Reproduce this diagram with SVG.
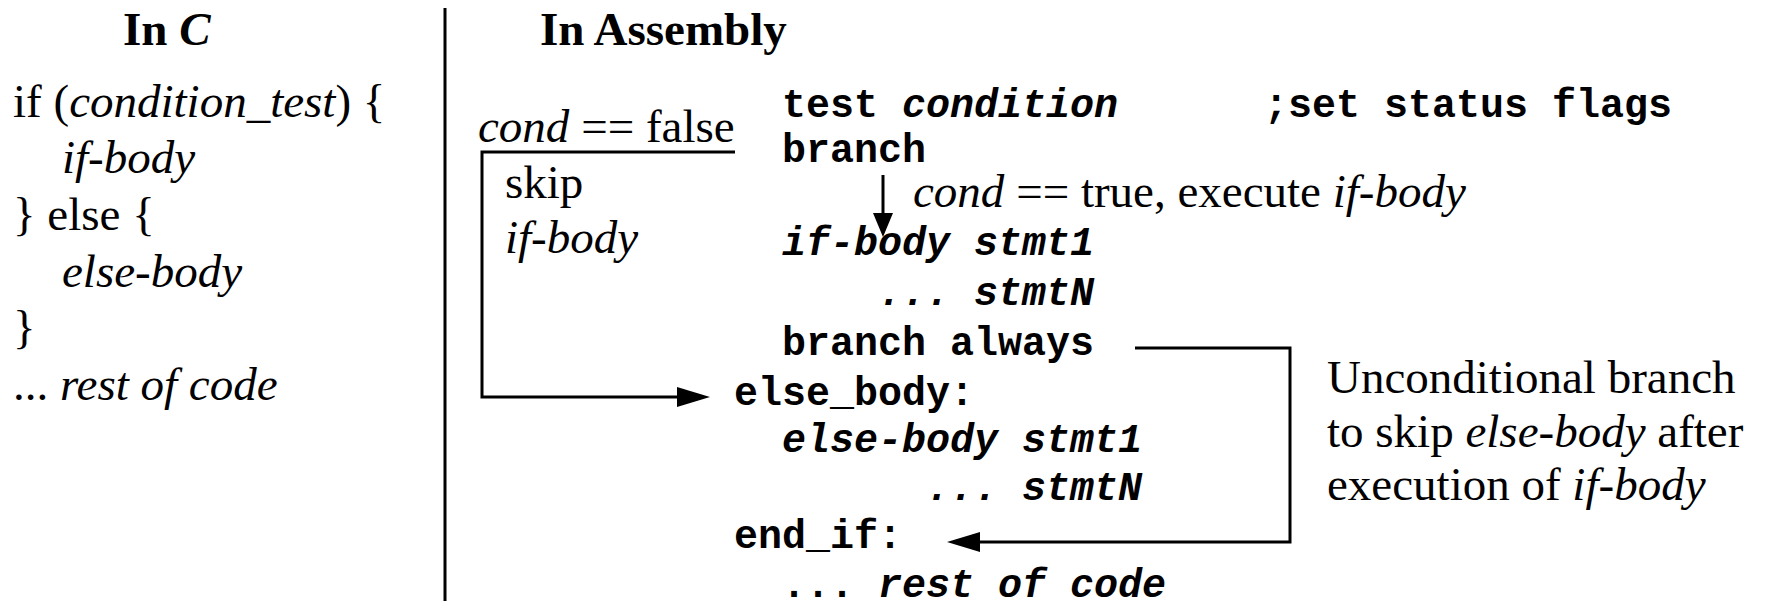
<svg xmlns="http://www.w3.org/2000/svg" width="1767" height="601" viewBox="0 0 1767 601">
  <style>
    .serif { font-family: "Liberation Serif", "Times New Roman", serif; font-size: 47px; fill: #000; }
    .head { font-family: "Liberation Serif", "Times New Roman", serif; font-size: 47px; font-weight: bold; fill: #000; }
    .mono { font-family: "Liberation Mono", "Courier New", monospace; font-size: 40px; font-weight: bold; fill: #000; white-space: pre; }
    .it { font-style: italic; }
    .wire { fill: none; stroke: #000; stroke-width: 3; }
  </style>
  <defs>
    <marker id="arrowLong" viewBox="0 0 33 20" refX="23" refY="10" markerWidth="33" markerHeight="20" markerUnits="userSpaceOnUse" orient="auto">
      <path d="M0 0 L33 10 L0 20 Z" fill="#000"/>
    </marker>
    <marker id="arrowShort" viewBox="0 0 24 20" refX="16" refY="10" markerWidth="24" markerHeight="20" markerUnits="userSpaceOnUse" orient="auto">
      <path d="M0 0 L24 10 L0 20 Z" fill="#000"/>
    </marker>
  </defs>
  <rect width="1767" height="601" fill="#fff"/>

  <!-- C source column -->
  <g id="c-code">
    <text class="head" x="123" y="45">In <tspan class="it">C</tspan></text>
    <text class="serif" x="13" y="117">if (<tspan class="it">condition_test</tspan>) {</text>
    <text class="serif it" x="62" y="173">if-body</text>
    <text class="serif" x="13" y="230">} else {</text>
    <text class="serif it" x="62" y="287">else-body</text>
    <text class="serif" x="13" y="343">}</text>
    <text class="serif" x="13" y="400">... <tspan class="it">rest of code</tspan></text>
  </g>

  <!-- Assembly column -->
  <g id="asm-code">
    <text class="head" x="540" y="45">In Assembly</text>
    <text class="mono" x="782" y="117">test <tspan class="it">condition</tspan></text>
    <text class="mono" x="1264" y="117">;set status flags</text>
    <text class="mono" x="782" y="162">branch</text>
    <text class="mono it" x="782" y="255">if-body stmt1</text>
    <text class="mono it" x="878" y="305">... stmtN</text>
    <text class="mono" x="782" y="355">branch always</text>
    <text class="mono" x="734" y="405">else_body:</text>
    <text class="mono it" x="782" y="452">else-body stmt1</text>
    <text class="mono it" x="926" y="500">... stmtN</text>
    <text class="mono" x="734" y="548">end_if:</text>
    <text class="mono" x="782" y="597">... <tspan class="it">rest of code</tspan></text>
  </g>

  <!-- Branch annotations -->
  <g id="false-label">
    <text class="serif" x="478" y="142"><tspan class="it">cond</tspan> == false</text>
    <text class="serif" x="505" y="198">skip</text>
    <text class="serif it" x="505" y="253">if-body</text>
  </g>
  <g id="true-label">
    <text class="serif" x="913" y="207"><tspan class="it">cond</tspan> == true, execute <tspan class="it">if-body</tspan></text>
  </g>
  <g id="always-label">
    <text class="serif" x="1327" y="393">Unconditional branch</text>
    <text class="serif" x="1327" y="447">to skip <tspan class="it">else-body</tspan> after</text>
    <text class="serif" x="1327" y="500">execution of <tspan class="it">if-body</tspan></text>
  </g>

  <!-- Divider and control-flow connectors -->
  <g id="connectors">
    <line class="wire" x1="445" y1="8" x2="445" y2="601"/>
    <path class="wire" d="M735 152 H482 V397 H700" marker-end="url(#arrowLong)"/>
    <path class="wire" d="M883 175 V229" marker-end="url(#arrowShort)"/>
    <path class="wire" d="M1135 348 H1290 V542 H957" marker-end="url(#arrowLong)"/>
  </g>
</svg>
